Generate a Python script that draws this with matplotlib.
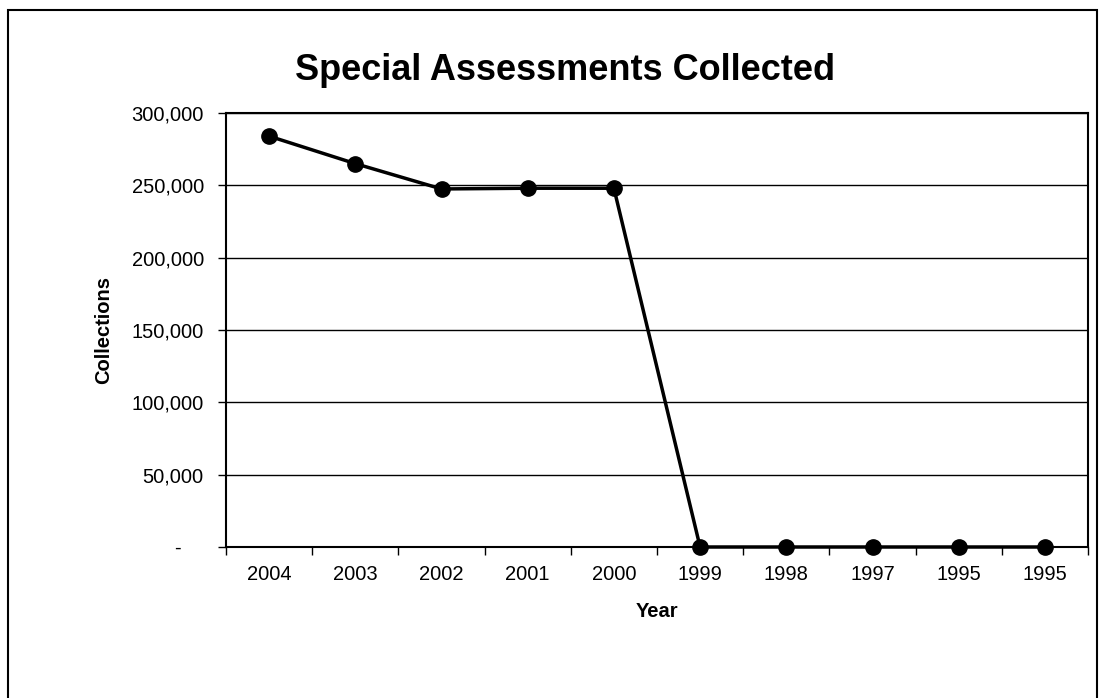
import matplotlib
matplotlib.use("Agg")
import matplotlib.pyplot as plt
from matplotlib.patches import Rectangle
from matplotlib.ticker import FuncFormatter, FixedLocator

years = ["2004", "2003", "2002", "2001", "2000", "1999", "1998", "1997", "1995", "1995"]
collections = [284000, 265000, 247500, 248000, 248000, 0, 0, 0, 0, 0]
y_ticks = [0, 50000, 100000, 150000, 200000, 250000, 300000]

plt.rcParams['font.family'] = ['Liberation Sans', 'DejaVu Sans']

W, H = 1104, 698
fig = plt.figure(figsize=(W / 100, H / 100), dpi=100)

# plot area in pixel coordinates of the reference
left, right, top, bottom = 226, 1088, 113, 547
ax = fig.add_axes([left / W, 1 - bottom / H, (right - left) / W, (bottom - top) / H])

x = list(range(len(years)))
ax.plot(x, collections, color='black', linewidth=2.5, marker='o',
        markersize=11, markerfacecolor='black', zorder=3, clip_on=False)

ax.set_xlim(-0.5, len(years) - 0.5)
ax.set_ylim(0, 300000)
ax.yaxis.set_major_locator(FixedLocator(y_ticks))
# accounting style: zero shown as a dash, set in from the right
ax.yaxis.set_major_formatter(FuncFormatter(lambda v, p: '-    ' if v == 0 else f'{int(v):,}'))
ax.grid(axis='y', color='black', linewidth=1)
ax.set_axisbelow(True)

ax.set_xticks(x)
ax.set_xticklabels(years)
ax.set_xticks([i - 0.5 for i in range(len(years) + 1)], minor=True)
ax.tick_params(axis='x', which='major', length=0, labelsize=14.5, pad=13)
ax.tick_params(axis='x', which='minor', length=6, width=1, direction='out')
ax.tick_params(axis='y', length=6, width=1, direction='out', labelsize=14.5, pad=10)

for s in ax.spines.values():
    s.set_color('black')
    s.set_linewidth(1.5)

ax.set_xlabel('Year', fontsize=14.5, fontweight='bold', labelpad=13)
ax.set_ylabel('Collections', fontsize=14.5, fontweight='bold', labelpad=13)

fig.text(565 / W, 1 - 70 / H, 'Special Assessments Collected', ha='center', va='center',
         fontsize=26, fontweight='bold')

# outer chart border
fig.patches.append(Rectangle((8 / W, -0.01), (1097 - 8) / W, 1 - 10 / H + 0.01,
                             transform=fig.transFigure, fill=False,
                             edgecolor='black', linewidth=1.5))

fig.savefig('out.png', dpi=100)
